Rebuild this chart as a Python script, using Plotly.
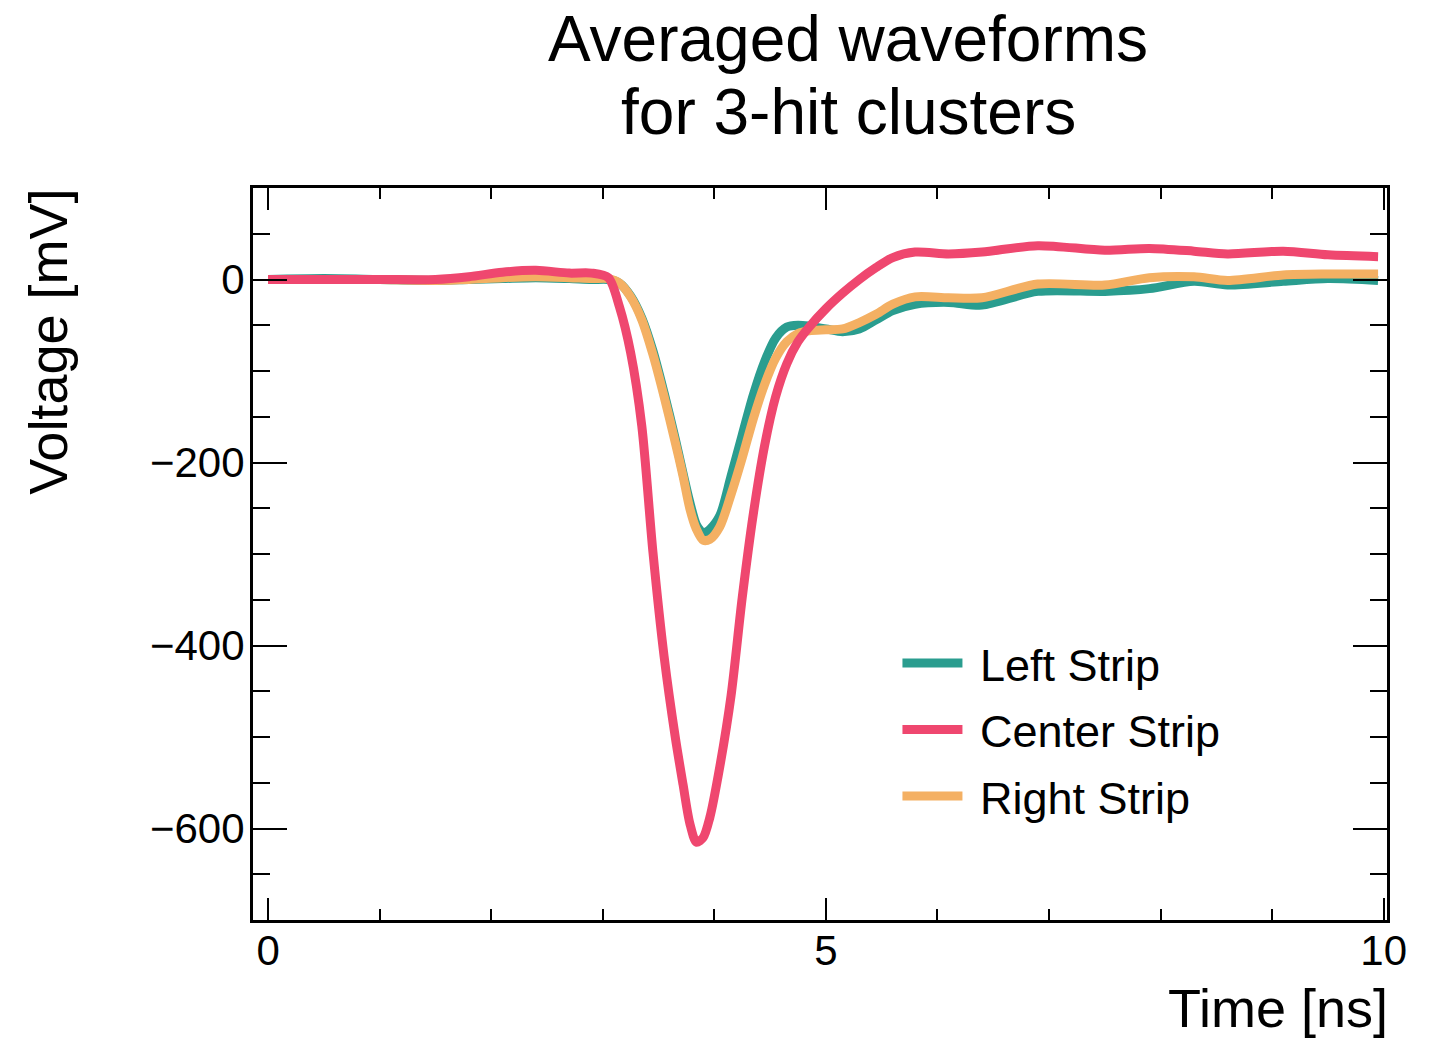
import plotly.graph_objects as go

# Time axis [ns]
time_ns = [0, 0.5, 1.0, 1.5, 1.8, 2.1, 2.4, 2.7, 2.9, 3.05, 3.15, 3.25, 3.35, 3.45,
           3.55, 3.65, 3.72, 3.78, 3.84, 3.90, 3.96, 4.05, 4.15, 4.25, 4.35, 4.45, 4.55, 4.65,
           4.75, 4.85, 5.0, 5.15, 5.3, 5.45, 5.6, 5.8, 6.1, 6.4, 6.9, 7.5, 7.9, 8.3,
           8.6, 9.1, 9.5, 9.95]

# Averaged waveforms [mV]
left_strip = [0, 1, 0, -1, 0, 1, 2, 1, 0, 0, -4, -18, -42, -78,
              -124, -174, -212, -243, -268, -277, -273, -258, -215, -170, -126, -90, -64, -52,
              -50, -51, -54, -57, -54, -44, -34, -27, -25, -28, -13, -13, -10, -2,
              -6, -2, 1, -1]

center_strip = [0, 0, 0, 0, 3, 8, 10, 7, 7, 2, -30, -80, -160, -298,
                -412, -500, -552, -594, -615, -610, -588, -532, -455, -348, -256, -182, -128, -92,
                -68, -52, -32, -15, 0, 13, 24, 30, 28, 30, 37, 32, 34, 31,
                28, 31, 27, 25]

right_strip = [0, 0, 0, -1, 0, 2, 3, 2, 1, 1, -4, -19, -44, -82,
               -128, -178, -215, -250, -273, -285, -284, -270, -235, -195, -152, -115, -86, -68,
               -59, -56, -55, -54, -47, -38, -27, -19, -20, -20, -5, -6, 2, 3,
               -1, 5, 6, 6]

series_names = ["Left Strip", "Center Strip", "Right Strip"]
series_colors = {"Left Strip": "#2A9D8F", "Center Strip": "#EF476F", "Right Strip": "#F4B063"}
series_values = {"Left Strip": left_strip, "Center Strip": center_strip, "Right Strip": right_strip}
legend_rank = {"Left Strip": 1, "Center Strip": 2, "Right Strip": 3}
draw_order = ["Left Strip", "Right Strip", "Center Strip"]

FONT = "Liberation Sans, Arial, Helvetica, sans-serif"

fig = go.Figure()
for name in draw_order:
    fig.add_trace(go.Scatter(
        x=time_ns, y=series_values[name], mode="lines", name=" " + name,
        line=dict(color=series_colors[name], width=9, shape="spline", smoothing=0.8),
        legendrank=legend_rank[name], legendgroup=name,
    ))

fig.update_layout(
    width=1443, height=1039,
    margin=dict(l=253, r=56, t=188, b=119),
    paper_bgcolor="white", plot_bgcolor="white",
    font=dict(family=FONT, color="black"),
    showlegend=True,
    legend=dict(
        x=0.5683, y=0.40, xanchor="left", yanchor="top",
        font=dict(size=45, family=FONT, color="black"),
        bgcolor="rgba(0,0,0,0)", tracegroupgap=5,
        itemwidth=60,
    ),
)

fig.update_xaxes(
    range=[-0.135, 10.03],
    tickmode="array", tickvals=[0, 5, 10], ticktext=["0", "5", "10"],
    ticks="inside", ticklen=22, tickwidth=2, tickcolor="black",
    minor=dict(tickmode="array", tickvals=[1, 2, 3, 4, 6, 7, 8, 9], ticks="inside",
               ticklen=11, tickwidth=2, tickcolor="black"),
    showline=True, linecolor="black", linewidth=3, mirror="allticks",
    showgrid=False, zeroline=False, ticklabelstandoff=-8,
    tickfont=dict(size=42, family=FONT, color="black"),
)
fig.update_yaxes(
    range=[-700, 100],
    tickmode="array", tickvals=[-600, -400, -200, 0], ticktext=["\u2212600", "\u2212400", "\u2212200", "0"],
    ticks="inside", ticklen=34, tickwidth=2, tickcolor="black",
    minor=dict(tickmode="array", tickvals=[-650, -550, -500, -450, -350, -300, -250, -150, -100, -50, 50],
               ticks="inside", ticklen=17, tickwidth=2, tickcolor="black"),
    showline=True, linecolor="black", linewidth=3, mirror="allticks",
    showgrid=False, zeroline=False, ticklabelstandoff=-3,
    tickfont=dict(size=42, family=FONT, color="black"),
)

# Titles
fig.add_annotation(text="Averaged waveforms", xref="paper", yref="paper",
                   x=0.5247, y=1.2036, xanchor="center", yanchor="middle",
                   showarrow=False, font=dict(size=64, family=FONT, color="black"))
fig.add_annotation(text="for 3-hit clusters", xref="paper", yref="paper",
                   x=0.5247, y=1.1038, xanchor="center", yanchor="middle",
                   showarrow=False, font=dict(size=64, family=FONT, color="black"))
fig.add_annotation(text="Voltage [mV]", xref="paper", yref="paper",
                   x=-0.1808, y=0.790, xanchor="center", yanchor="middle", textangle=-90,
                   showarrow=False, font=dict(size=54, family=FONT, color="black"))
fig.add_annotation(text="Time [ns]", xref="paper", yref="paper",
                   x=1.0026, y=-0.1202, xanchor="right", yanchor="middle",
                   showarrow=False, font=dict(size=54, family=FONT, color="black"))

fig.write_html("out.html")
